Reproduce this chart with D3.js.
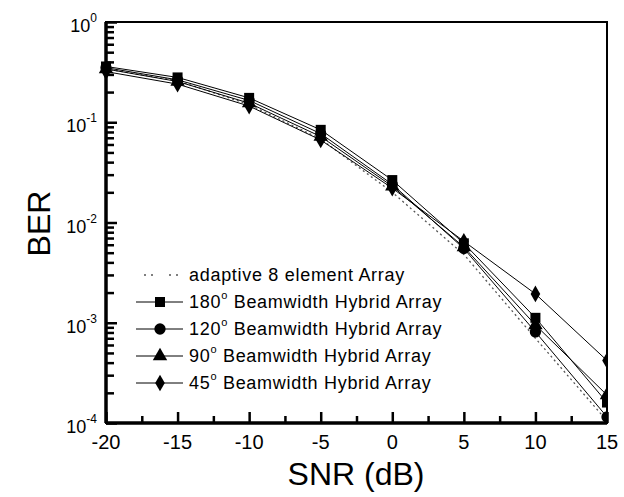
<!DOCTYPE html>
<html>
<head>
<meta charset="utf-8">
<script src="https://cdn.jsdelivr.net/npm/d3@7"></script>
<style>
body { margin: 0; background: #fff; }
svg { font-family: Arial, "Liberation Sans", sans-serif; }
</style>
</head>
<body>
<div id="chart"></div>
<script>
// SNR values (dB)
var snr = [-20, -15, -10, -5, 0, 5, 10, 15];

// BER per curve
var ber_adaptive = [0.34, 0.26, 0.15, 0.068, 0.020, 0.0048, 0.00070, 0.000105];
var ber_180 = [0.36, 0.28, 0.175, 0.084, 0.0265, 0.0062, 0.00112, 0.00016];
var ber_120 = [0.35, 0.265, 0.165, 0.077, 0.024, 0.0055, 0.00081, 0.000115];
var ber_90 = [0.34, 0.255, 0.155, 0.072, 0.023, 0.0057, 0.00095, 0.00019];
var ber_45 = [0.32, 0.24, 0.145, 0.0665, 0.022, 0.0065, 0.00194, 0.00042];

var x_ticks = [-20, -15, -10, -5, 0, 5, 10, 15];
var x_minor_ticks = [-17.5, -12.5, -7.5, -2.5, 2.5, 7.5, 12.5];
var y_exps = [0, -1, -2, -3, -4];

var legend_labels = ["adaptive 8 element Array", "180", "120", "90", "45"];

var margin = {top: 22, right: 17, bottom: 74, left: 106};
var width = 624 - margin.left - margin.right;
var height = 497 - margin.top - margin.bottom;

var x = d3.scaleLinear().domain([-20, 15]).range([0, width]);
var y = d3.scaleLog().domain([1e-4, 1]).range([height, 0]);

var svg = d3.select("#chart").append("svg")
    .attr("width", 624)
    .attr("height", 497);

var vis = svg.append("g")
    .attr("transform", "translate(" + margin.left + "," + margin.top + ")");

// frame
vis.append("rect")
    .attr("width", width).attr("height", height)
    .attr("fill", "none").attr("stroke", "#000").attr("stroke-width", 2);
vis.append("line").attr("x1", 0).attr("x2", 0).attr("y1", 0).attr("y2", height)
    .attr("stroke", "#000").attr("stroke-width", 3.5);
vis.append("line").attr("x1", 0).attr("x2", width).attr("y1", height).attr("y2", height)
    .attr("stroke", "#000").attr("stroke-width", 3.5);

// inward ticks through d3 axes (labels drawn separately)
var y_major = y_exps.map(function (d) { return Math.pow(10, d); });
var y_minor = [];
y_exps.slice(0, 4).forEach(function (e) {
    [2, 3, 4, 5, 6, 7, 8, 9].forEach(function (m) { y_minor.push(m * Math.pow(10, e - 1)); });
});

var tick_groups = [];
tick_groups.push(vis.append("g")
    .call(d3.axisRight(y).tickValues(y_minor).tickSize(8).tickFormat("")));
tick_groups.push(vis.append("g")
    .call(d3.axisRight(y).tickValues(y_major).tickSize(11).tickFormat("")));
tick_groups.push(vis.append("g")
    .attr("transform", "translate(0," + height + ")")
    .call(d3.axisTop(x).tickValues(x_minor_ticks).tickSize(7).tickFormat("")));
tick_groups.push(vis.append("g")
    .attr("transform", "translate(0," + height + ")")
    .call(d3.axisTop(x).tickValues(x_ticks).tickSize(11).tickFormat("")));
tick_groups.forEach(function (g) {
    g.select(".domain").remove();
    g.selectAll("line").attr("stroke", "#000").attr("stroke-width", 2.5);
});

// tick labels
vis.append("g").selectAll("text.xl")
    .data(x_ticks).enter().append("text")
    .attr("x", function (d) { return x(d); })
    .attr("y", height + 26)
    .style("text-anchor", "middle")
    .style("font-size", "20px")
    .text(function (d) { return d; });

var ylab = vis.append("g").selectAll("text.yl")
    .data(y_exps).enter().append("text")
    .attr("x", -9)
    .attr("y", function (d) { return y(Math.pow(10, d)) + 10; })
    .style("text-anchor", "end")
    .style("font-size", "18px");
ylab.append("tspan").text("10");
ylab.append("tspan")
    .attr("dy", -10)
    .style("font-size", "12px")
    .text(function (d) { return d; });

// axis titles
svg.append("text")
    .attr("x", 356)
    .attr("y", 485)
    .style("text-anchor", "middle")
    .style("font-size", "32px")
    .text("SNR (dB)");
svg.append("text")
    .attr("transform", "translate(50," + (margin.top + y(Math.pow(10, -2)) + 1) + ") rotate(-90)")
    .style("text-anchor", "middle")
    .style("font-size", "32px")
    .text("BER");

// curves
var line = d3.line()
    .x(function (d) { return x(d[0]); })
    .y(function (d) { return y(d[1]); });

var clip = vis.append("clipPath").attr("id", "plot_clip")
    .append("rect").attr("x", -10).attr("y", -10)
    .attr("width", width + 10).attr("height", height + 10);
var plot = vis.append("g").attr("clip-path", "url(#plot_clip)");

function pairs(vals) {
    return snr.map(function (s, i) { return [s, vals[i]]; });
}

plot.append("path")
    .datum(pairs(ber_adaptive))
    .attr("d", line)
    .style("fill", "none").style("stroke", "#555")
    .style("stroke-width", 1.3).style("stroke-dasharray", "2,3");

var series = [
    {vals: ber_180, sym: d3.symbolSquare, size: 100},
    {vals: ber_120, sym: d3.symbolCircle, size: 100},
    {vals: ber_90, sym: d3.symbolTriangle, size: 90},
    {vals: ber_45, sym: d3.symbolDiamond, size: 80}
];

series.forEach(function (s) {
    plot.append("path")
        .datum(pairs(s.vals))
        .attr("d", line)
        .style("fill", "none").style("stroke", "#000").style("stroke-width", 1);
    plot.append("g").selectAll("path.pt")
        .data(pairs(s.vals)).enter().append("path")
        .attr("transform", function (d) { return "translate(" + x(d[0]) + "," + y(d[1]) + ")"; })
        .attr("d", d3.symbol().type(s.sym).size(s.size))
        .style("fill", "#000");
});

// legend
var leg = vis.append("g").attr("transform", "translate(30,253)");
var row_h = 27;
leg.append("line")
    .attr("x1", 8).attr("x2", 42).attr("y1", 0).attr("y2", 0)
    .style("stroke", "#555").style("stroke-width", 1.3).style("stroke-dasharray", "2,5,2,16");
leg.append("text")
    .attr("x", 53).attr("y", 6)
    .style("font-size", "18px").style("letter-spacing", "0.7px")
    .text(legend_labels[0]);

series.forEach(function (s, i) {
    var ry = (i + 1) * row_h;
    leg.append("line")
        .attr("x1", 0).attr("x2", 47).attr("y1", ry).attr("y2", ry)
        .style("stroke", "#000").style("stroke-width", 1);
    leg.append("path")
        .attr("transform", "translate(24," + ry + ")")
        .attr("d", d3.symbol().type(s.sym).size(s.size))
        .style("fill", "#000");
    var t = leg.append("text")
        .attr("x", 53).attr("y", ry + 6)
        .style("font-size", "18px").style("letter-spacing", "0.7px");
    t.append("tspan").text(legend_labels[i + 1]);
    t.append("tspan").attr("dy", -9).style("font-size", "11px").text("o");
    t.append("tspan").attr("dy", 9).text(" Beamwidth Hybrid Array");
});
</script>
</body>
</html>
